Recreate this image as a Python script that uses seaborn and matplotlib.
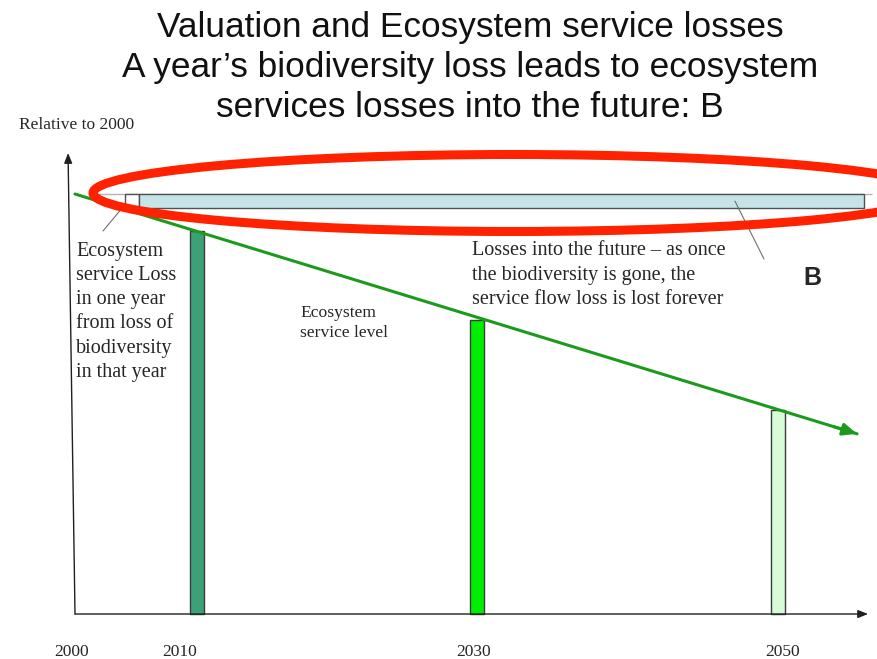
import matplotlib
matplotlib.use('Agg')
import numpy as np
import pandas as pd
import matplotlib.pyplot as plt
import matplotlib.transforms as mtransforms
import seaborn as sns
from matplotlib.patches import Ellipse

# values (level relative to 2000 = 1.0)
bar_years = [2010, 2030, 2050]
bar_levels = [0.912, 0.70, 0.486]
bar_colors = ['#3aa276', '#00ee00', '#d8fbd8']

line_years = [2000, 2055.25]
line_levels = [1.0, 0.429]

loss_start, loss_stop = 2004.1, 2005.25   # the one year of biodiversity loss
loss_size = 0.034                         # service lost in that year
future_end = 2055.71                      # losses carried into the future
tick_labels = ['2000', '2010', '2030', '2050']
tick_pos = [1999.75, 2008.6, 2029.79, 2050.33]

title_lines = ['Valuation and Ecosystem service losses',
               'A year\u2019s biodiversity loss leads to ecosystem',
               'services losses into the future: B']

# the slide's time axis is not drawn to scale
axis_years = [1993.85, 2000, 2010, 2030, 2050, 2056.64]
axis_units = [0, 75, 197, 477, 778, 878]

def fwd(x):
    return np.interp(x, axis_years, axis_units)

def inv(u):
    return np.interp(u, axis_units, axis_years)

sns.set_theme(style='white')
plt.rcParams['font.family'] = ['Liberation Serif', 'DejaVu Serif']

W, H = 878, 659
fig = plt.figure(figsize=(W / 100, H / 100), dpi=100)
ax = fig.add_axes([0, 0, 1, 1])
ax.set_xscale('function', functions=(fwd, inv))

def fx(px):
    return px / W

def fy(py):
    return 1 - py / H

# bars for ecosystem service level
bar_df = pd.DataFrame({'year': bar_years, 'level': bar_levels,
                       'label': [str(y) for y in bar_years]})
sns.barplot(data=bar_df, x='year', y='level', hue='label',
            palette=dict(zip(bar_df['label'], bar_colors)),
            native_scale=True, width=0.05, dodge=False, legend=False,
            errorbar=None, saturation=1, edgecolor='#3c3c3c', linewidth=1,
            ax=ax, zorder=3)
ax.set_xlim(axis_years[0], axis_years[-1])
ax.set_ylim(-0.1071, 1.4619)
ax.axis('off')

# declining service level
green = '#1c9a1c'
sns.lineplot(x=line_years, y=line_levels, color=green, lw=2.2, ax=ax, zorder=4)
back = line_years[-1] - 1.5
t = (fwd(back) - fwd(line_years[0])) / (fwd(line_years[-1]) - fwd(line_years[0]))
ax.annotate('', xy=(line_years[-1], line_levels[-1]),
            xytext=(back, line_levels[0] + t * (line_levels[-1] - line_levels[0])),
            arrowprops=dict(arrowstyle='-|>,head_length=0.7,head_width=0.3',
                            color=green, lw=2.2, shrinkA=0, shrinkB=0), zorder=4)

# 2000 reference level and the lost-service bars
ax.hlines(line_levels[0], 2001.48, 2056.25, color='#b4b4b4', lw=1, zorder=2)
ax.bar(loss_start, -loss_size, bottom=line_levels[0], width=loss_stop - loss_start,
       align='edge', color='white', edgecolor='#505050', lw=1, zorder=3)
ax.bar(loss_stop, -loss_size, bottom=line_levels[0], width=future_end - loss_stop,
       align='edge', color='#c5e4e8', edgecolor='#505050', lw=1, zorder=3)

# axes arrows
ax.annotate('', xy=(2055.98, 0), xytext=(line_years[0], 0),
            arrowprops=dict(arrowstyle='-|>,head_length=0.5,head_width=0.2',
                            color='#202020', lw=1, shrinkA=0, shrinkB=0))
ax.annotate('', xy=(1999.43, 1.0976), xytext=(line_years[0], 0),
            arrowprops=dict(arrowstyle='-|>,head_length=0.5,head_width=0.2',
                            color='#202020', lw=1, shrinkA=0, shrinkB=0))

# red highlight ellipse
fig.patches.append(Ellipse((fx(513), fy(193)), 840 / W, 77 / H, fill=False,
                           edgecolor='#ff2200', lw=6.5, zorder=5,
                           transform=fig.transFigure, figure=fig))

# leader lines
ax.annotate('', xy=(2003.85, line_levels[0] - loss_size),
            xytext=(fx(103), fy(231)), textcoords='figure fraction',
            arrowprops=dict(arrowstyle='-', color='#707070', lw=0.8, shrinkA=0, shrinkB=0))
ax.annotate('', xy=(2047.14, line_levels[0] - loss_size / 2),
            xytext=(fx(764), fy(259)), textcoords='figure fraction',
            arrowprops=dict(arrowstyle='-', color='#707070', lw=0.8, shrinkA=0, shrinkB=0))

# texts
for i, t in enumerate(title_lines):
    fig.text(fx(470), fy(36.5 + 40.3 * i), t, ha='center', va='baseline',
             fontsize=25.4, family=['Liberation Sans', 'DejaVu Sans'], color='#111111')

fig.text(fx(19), fy(129), 'Relative to 2000', fontsize=12.5, va='baseline')
tick_trans = mtransforms.blended_transform_factory(ax.transData, fig.transFigure)
for lab, pos in zip(tick_labels, tick_pos):
    ax.text(pos, fy(656), lab, transform=tick_trans, ha='center', va='baseline', fontsize=12.5)

# multi-line texts are anchored on the baseline of their last line
fig.text(fx(76), fy(377),
         'Ecosystem\nservice Loss\nin one year\nfrom loss of\nbiodiversity\nin that year',
         fontsize=14.5, va='baseline', linespacing=1.375)
fig.text(fx(300), fy(337), 'Ecosystem\nservice level', fontsize=12.6, va='baseline',
         linespacing=1.35)
fig.text(fx(472), fy(304),
         'Losses into the future \u2013 as once\nthe biodiversity is gone, the\nservice flow loss is lost forever',
         fontsize=14.5, va='baseline', linespacing=1.375)
fig.text(fx(803), fy(285), 'B', fontsize=18, fontweight='bold', va='baseline',
         family=['Liberation Sans', 'DejaVu Sans'])

fig.savefig('out.png', dpi=100)
